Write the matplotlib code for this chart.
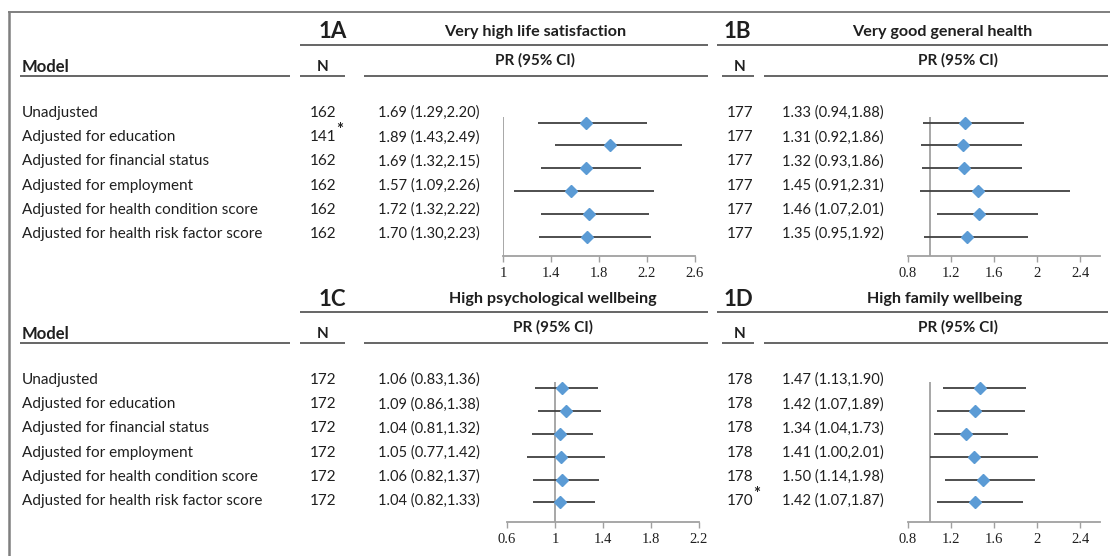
import matplotlib
matplotlib.use("Agg")
import matplotlib.pyplot as plt
from matplotlib.lines import Line2D

W, H = 1110, 556

models = ["Unadjusted", "Adjusted for education", "Adjusted for financial status",
          "Adjusted for employment", "Adjusted for health condition score",
          "Adjusted for health risk factor score"]

# Panel 1A
titleA = "Very high life satisfaction"
nA = [162, 141, 162, 162, 162, 162]
starA = [False, True, False, False, False, False]
prA = [1.69, 1.89, 1.69, 1.57, 1.72, 1.70]
loA = [1.29, 1.43, 1.32, 1.09, 1.32, 1.30]
hiA = [2.20, 2.49, 2.15, 2.26, 2.22, 2.23]
ticksA = [1, 1.4, 1.8, 2.2, 2.6]

# Panel 1B
titleB = "Very good general health"
nB = [177, 177, 177, 177, 177, 177]
starB = [False] * 6
prB = [1.33, 1.31, 1.32, 1.45, 1.46, 1.35]
loB = [0.94, 0.92, 0.93, 0.91, 1.07, 0.95]
hiB = [1.88, 1.86, 1.86, 2.31, 2.01, 1.92]
ticksB = [0.8, 1.2, 1.6, 2, 2.4]

# Panel 1C
titleC = "High psychological wellbeing"
nC = [172, 172, 172, 172, 172, 172]
starC = [False] * 6
prC = [1.06, 1.09, 1.04, 1.05, 1.06, 1.04]
loC = [0.83, 0.86, 0.81, 0.77, 0.82, 0.82]
hiC = [1.36, 1.38, 1.32, 1.42, 1.37, 1.33]
ticksC = [0.6, 1, 1.4, 1.8, 2.2]

# Panel 1D
titleD = "High family wellbeing"
nD = [178, 178, 178, 178, 178, 170]
starD = [False, False, False, False, False, True]
prD = [1.47, 1.42, 1.34, 1.41, 1.50, 1.42]
loD = [1.13, 1.07, 1.04, 1.00, 1.14, 1.07]
hiD = [1.90, 1.89, 1.73, 2.01, 1.98, 1.87]
ticksD = [0.8, 1.2, 1.6, 2, 2.4]

SANS = ["Lato", "DejaVu Sans"]
SERIF = ["Liberation Serif", "DejaVu Serif"]
TXT = "#1f1f1f"
LINEC = "#595959"
BLUE = "#5B9BD5"
AXC = "#A0A0A0"

fig = plt.figure(figsize=(W / 100, H / 100), dpi=100)


def fx(x):
    return x / W


def fy(y):
    return 1 - y / H


def text(x, y, s, size=11, weight="normal", ha="left", va="center", color=TXT, family=SANS):
    fig.text(fx(x), fy(y), s, fontsize=size, fontweight=weight, ha=ha, va=va,
             color=color, family=family)


def hline(x0, x1, y, lw=1.3, color=LINEC):
    fig.add_artist(Line2D([fx(x0), fx(x1)], [fy(y), fy(y)], lw=lw, color=color,
                          transform=fig.transFigure, solid_capstyle="butt"))


def vline(x, y0, y1, lw=1.3, color=LINEC):
    fig.add_artist(Line2D([fx(x), fx(x)], [fy(y0), fy(y1)], lw=lw, color=color,
                          transform=fig.transFigure, solid_capstyle="butt"))


# frame
hline(8, 1110, 12, lw=1.4, color="#7f7f7f")
vline(8.5, 12, 556, lw=1.8, color="#7f7f7f")


def panel(tag, title, n, star, pr, lo, hi, ticks, y0, xcols, plotbox):
    hx0, hx1 = xcols["hx0"], xcols["hx1"]
    ncx = xcols["ncx"]
    text(xcols["tagx"], y0 + 20, tag, size=16, weight="bold", va="center")
    text(xcols["tcx"], y0 + 20, title, size=11.6, weight="bold", ha="center")
    hline(hx0, hx1, y0 + 33)
    text(ncx, y0 + 55, "N", size=11, weight="bold", ha="center")
    text(xcols["pcx"], y0 + 48, "PR (95% CI)", size=11, weight="bold", ha="center")
    hline(xcols["nl0"], xcols["nl1"], y0 + 64)
    hline(xcols["pl0"], hx1, y0 + 64)
    rows_y = [y0 + 101 + i * 24.2 for i in range(6)]
    for i in range(6):
        ry = rows_y[i]
        text(ncx, ry, str(n[i]), ha="center")
        if star[i]:
            text(ncx + 13, ry - 7, "*", size=12, weight="bold", ha="left")
        text(xcols["prx"], ry, f"{pr[i]:.2f} ({lo[i]:.2f},{hi[i]:.2f})", size=10.5)
    l, t, r, b = plotbox
    ax = fig.add_axes([fx(l), fy(b), fx(r) - fx(l), fy(t) - fy(b)])
    ys = [5 - i for i in range(6)]
    for i in range(6):
        ax.plot([lo[i], hi[i]], [ys[i], ys[i]], color="#404040", lw=1.3,
                solid_capstyle="butt", zorder=2)
    ax.plot(pr, ys, linestyle="none", marker="D", markersize=6.4,
            color=BLUE, markeredgecolor=BLUE, zorder=3)
    ax.axvline(1, color=AXC, lw=1.3, zorder=1)
    ax.set_xlim(ticks[0], ticks[0] + (r - l) / xcols["ppu"])
    ax.set_ylim(-0.85, 5.25)
    ax.set_xticks(ticks)
    ax.set_xticklabels([f"{t_:g}" for t_ in ticks], family=SERIF, fontsize=10.5, color=TXT)
    ax.set_yticks([])
    for s in ["top", "right", "left"]:
        ax.spines[s].set_visible(False)
    ax.spines["bottom"].set_color(AXC)
    ax.spines["bottom"].set_linewidth(1.3)
    ax.tick_params(axis="x", direction="out", length=4, width=1, color=AXC, pad=4)
    ax.patch.set_alpha(0)
    return ax


def left_block(y0):
    text(22, y0 + 55, "Model", size=12, weight="bold")
    hline(20, 290, y0 + 64)
    rows_y = [y0 + 101 + i * 24.2 for i in range(6)]
    for i in range(6):
        text(22, rows_y[i], models[i])


colsA = dict(tagx=319, hx0=300, hx1=708, tcx=535, ncx=323, prx=378, pcx=535,
             nl0=300, nl1=345, pl0=364, ppu=120)
colsB = dict(tagx=724, hx0=717, hx1=1108, tcx=942, ncx=740, prx=782, pcx=958,
             nl0=722, nl1=754, pl0=764, ppu=107.5)
colsC = dict(colsA)
colsC.update(tcx=553, pcx=553)
colsD = dict(colsB)
colsD.update(tcx=945, pcx=958)

left_block(12)
panel("1A", titleA, nA, starA, prA, loA, hiA, ticksA, 12, colsA, (503, 117, 695, 256))
panel("1B", titleB, nB, starB, prB, loB, hiB, ticksB, 12, colsB, (908, 117, 1100, 256))

left_block(279)
panel("1C", titleC, nC, starC, prC, loC, hiC, ticksC, 279, colsC, (507, 382, 699, 522))
panel("1D", titleD, nD, starD, prD, loD, hiD, ticksD, 279, colsD, (908, 382, 1100, 522))

fig.savefig("out.png", dpi=100)
